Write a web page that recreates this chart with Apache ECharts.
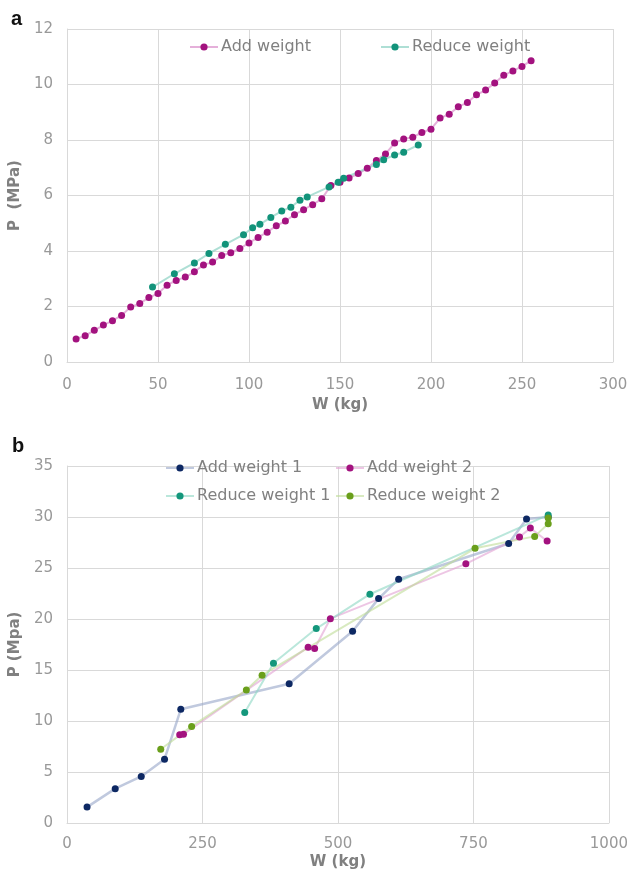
<!DOCTYPE html>
<html>
<head>
<meta charset="utf-8">
<script src="https://cdn.jsdelivr.net/npm/echarts@6/dist/echarts.min.js"></script>
<style>html,body{margin:0;padding:0;background:#fff}#c{width:631px;height:875px}</style>
</head>
<body>
<div id="c"></div>
<script>
// Panel a
var aAddW = [5,10,15,20,25,30,35,40,45,50,55,60,65,70,75,80,85,90,95,100,105,110,115,120,125,130,135,140,145,150,155,160,165,170,175,180,185,190,195,200,205,210,215,220,225,230,235,240,245,250,255];
var aAddP = [0.83,0.95,1.14,1.33,1.49,1.68,1.98,2.11,2.32,2.47,2.77,2.94,3.06,3.25,3.5,3.6,3.84,3.94,4.09,4.29,4.49,4.68,4.91,5.08,5.31,5.49,5.67,5.88,6.36,6.48,6.63,6.79,6.98,7.26,7.5,7.89,8.04,8.1,8.27,8.39,8.79,8.93,9.2,9.35,9.63,9.8,10.05,10.33,10.49,10.65,10.86];
var aRedW = [193,185,180,174,170,152,149,144,132,128,123,118,112,106,102,97,87,78,70,59,47];
var aRedP = [7.82,7.56,7.46,7.29,7.12,6.62,6.48,6.31,5.95,5.83,5.58,5.44,5.21,4.96,4.84,4.59,4.24,3.91,3.57,3.18,2.70];
// Panel b
var bAdd1W = [37,89,137,180,210,410,527,575,612,815,848,888];
var bAdd1P = [1.56,3.37,4.57,6.26,11.15,13.65,18.8,22.0,23.9,27.4,29.8,30.0];
var bAdd2W = [208,215,445,457,486,736,835,855,886];
var bAdd2P = [8.65,8.7,17.24,17.11,20.03,25.41,28.03,28.91,27.65];
var bRed1W = [888,559,460,381,328];
var bRed1P = [30.2,22.43,19.06,15.66,10.83];
var bRed2W = [888,888,863,753,360,331,230,173];
var bRed2P = [29.9,29.33,28.1,26.93,14.49,13.03,9.47,7.23];

function pairs(w, p) { return w.map(function (v, i) { return [v, p[i]]; }); }

var FONT = 'DejaVu Sans';
var GRID_C = '#d9d9d9';
var TXT_C = '#808080';

function xAx(gi, max, interval, margin, gap) {
  return {
    type: 'value', gridIndex: gi, min: 0, max: max, interval: interval,
    name: 'W (kg)', nameLocation: 'middle', nameGap: gap,
    nameTextStyle: { color: TXT_C, fontWeight: 'bold', fontSize: 15, fontFamily: FONT },
    axisLine: { show: true, lineStyle: { color: GRID_C, width: 1 } },
    axisTick: { show: false },
    axisLabel: { color: '#999999', fontSize: 15, fontFamily: FONT, margin: margin,
      formatter: function (v) { return String(v); } },
    splitLine: { show: true, lineStyle: { color: GRID_C, width: 1 } }
  };
}
function yAx(gi, max, interval, name, gap) {
  return {
    type: 'value', gridIndex: gi, min: 0, max: max, interval: interval,
    name: name, nameLocation: 'middle', nameGap: gap,
    nameTextStyle: { color: TXT_C, fontWeight: 'bold', fontSize: 15, fontFamily: FONT },
    axisLine: { show: true, lineStyle: { color: GRID_C, width: 1 } },
    axisTick: { show: false },
    axisLabel: { color: '#999999', fontSize: 15, fontFamily: FONT, margin: 14 },
    splitLine: { show: true, lineStyle: { color: GRID_C, width: 1 } }
  };
}
function ser(name, xi, data, mk, ln, lw) {
  return {
    name: name, type: 'line', xAxisIndex: xi, yAxisIndex: xi, data: data,
    symbol: 'circle', symbolSize: 7, showSymbol: true,
    itemStyle: { color: mk, opacity: 1 },
    lineStyle: { color: ln, width: lw },
    emphasis: { disabled: true }, animation: false, z: 3
  };
}
function leg(name, left, top) {
  return {
    data: [name], left: left, top: top, padding: 0,
    itemWidth: 28, itemHeight: 9, itemGap: 0,
    textStyle: { color: TXT_C, fontSize: 16, fontFamily: FONT, padding: [0, 0, 0, -2] },
    selectedMode: false
  };
}

var chart = echarts.init(document.getElementById('c'), null, { renderer: 'canvas' });
chart.setOption({
  backgroundColor: '#ffffff',
  animation: false,
  title: [
    { text: 'a', left: 6, top: 4, textStyle: { color: '#111', fontSize: 20, fontWeight: 'bold', fontFamily: 'Liberation Sans' } },
    { text: 'b', left: 7, top: 431, textStyle: { color: '#111', fontSize: 20, fontWeight: 'bold', fontFamily: 'Liberation Sans' } }
  ],
  legend: [
    leg('Add weight', 189, 39),
    leg('Reduce weight', 380, 39),
    leg('Add weight 1', 165, 460),
    leg('Add weight 2', 335, 460),
    leg('Reduce weight 1', 165, 488),
    leg('Reduce weight 2', 335, 488)
  ],
  grid: [
    { left: 64, top: 29, width: 549, height: 333 },
    { left: 65, top: 466, width: 546, height: 357 }
  ],
  xAxis: [ xAx(0, 300, 50, 16, 36), xAx(1, 1000, 250, 14, 32) ],
  yAxis: [ yAx(0, 12, 2, 'P  (MPa)', 34), yAx(1, 35, 5, 'P (Mpa)', 37) ],
  series: [
    ser('Add weight', 0, pairs(aAddW, aAddP), '#A3127F', 'rgba(220,150,205,0.75)', 2),
    ser('Reduce weight', 0, pairs(aRedW, aRedP), '#12937A', 'rgba(140,210,195,0.7)', 2),
    ser('Add weight 1', 1, pairs(bAdd1W, bAdd1P), '#0D2863', 'rgba(150,165,200,0.6)', 2.5),
    ser('Add weight 2', 1, pairs(bAdd2W, bAdd2P), '#A3127F', 'rgba(225,160,210,0.6)', 2),
    ser('Reduce weight 1', 1, pairs(bRed1W, bRed1P), '#14977C', 'rgba(140,215,195,0.6)', 2),
    ser('Reduce weight 2', 1, pairs(bRed2W, bRed2P), '#6A9F1B', 'rgba(190,220,150,0.6)', 2)
  ]
});
</script>
</body>
</html>
